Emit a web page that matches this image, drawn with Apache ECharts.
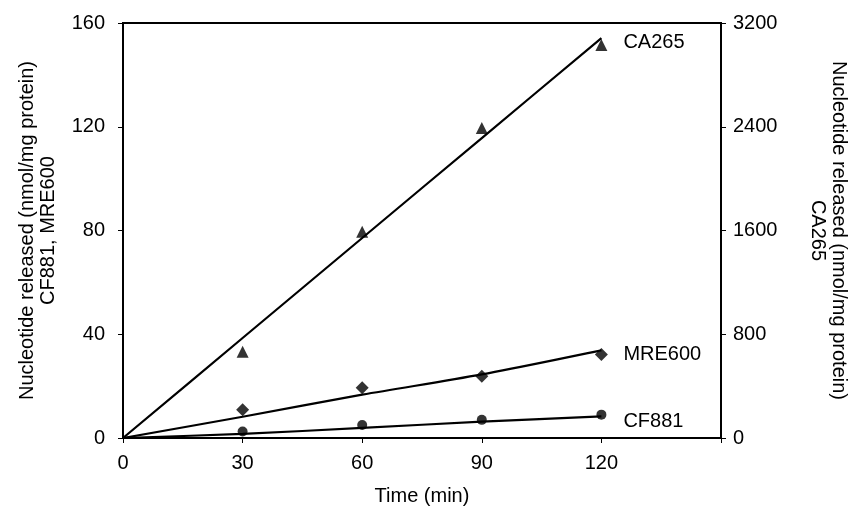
<!DOCTYPE html>
<html>
<head>
<meta charset="utf-8">
<script src="https://cdn.jsdelivr.net/npm/echarts@6/dist/echarts.min.js"></script>
<style>
  html, body { margin: 0; padding: 0; background: #fff; }
  #chart { width: 851px; height: 523px; }
</style>
</head>
<body>
<div id="chart"></div>
<script>
// time points (min)
var times = [30, 60, 90, 120];
var fitTimes = [0, 30, 60, 90, 120];

// measured values
var cf881 = [2.5, 5.0, 7.0, 9.0];          // left axis
var mre600 = [10.9, 19.4, 23.8, 32.2];     // left axis
var ca265 = [665, 1590, 2390, 3030];       // right axis

// fitted trend lines
var cf881Fit = [0, 1.6, 3.9, 6.3, 8.3];
var mre600Fit = [0, 8.2, 16.7, 24.5, 33.8];
var ca265Fit = [0, 771, 1542, 2313, 3084];

var pairs = function (xs, ys) {
    return xs.map(function (x, i) { return [x, ys[i]]; });
};

var font = 'Liberation Sans, Arial, sans-serif';
var black = '#000';
var fs = 20;

var fitSeries = function (name, ys, axis, dy) {
    return {
        name: name + ' fit',
        type: 'line',
        yAxisIndex: axis,
        data: pairs(fitTimes, ys),
        showSymbol: false,
        symbol: 'none',
        smooth: 0.3,
        lineStyle: { color: black, width: 2.2 },
        endLabel: {
            show: true,
            formatter: name,
            distance: 22,
            offset: [0, dy],
            color: black,
            fontFamily: font,
            fontSize: fs
        },
        z: 2
    };
};

var pointSeries = function (name, ys, axis, symbol, size) {
    return {
        name: name,
        type: 'scatter',
        yAxisIndex: axis,
        data: pairs(times, ys),
        symbol: symbol,
        symbolSize: size,
        itemStyle: { color: black },
        z: 3
    };
};

var myChart = echarts.init(document.getElementById('chart'));
myChart.setOption({
    animation: false,
    backgroundColor: '#fff',
    textStyle: { fontFamily: font, color: black },
    grid: {
        left: 123,
        right: 130,
        top: 23,
        bottom: 85,
        containLabel: false,
        outerBoundsMode: 'none',
        show: true,
        borderColor: black,
        borderWidth: 2
    },
    xAxis: {
        type: 'value',
        min: 0,
        max: 150,
        interval: 30,
        name: 'Time (min)',
        nameLocation: 'middle',
        nameGap: 48,
        nameTextStyle: { fontSize: fs, color: black, fontFamily: font },
        axisLine: { lineStyle: { color: black, width: 2 } },
        axisTick: { length: 5, lineStyle: { color: black } },
        axisLabel: {
            fontSize: fs,
            color: black,
            margin: 15,
            formatter: function (v) { return v === 150 ? '' : String(v); }
        },
        splitLine: { show: false }
    },
    yAxis: [
        {
            type: 'value',
            min: 0,
            max: 160,
            interval: 40,
            position: 'left',
            name: 'Nucleotide released (nmol/mg protein)\nCF881, MRE600',
            nameLocation: 'middle',
            nameGap: 64,
            nameTextStyle: { fontSize: fs, color: black, fontFamily: font, lineHeight: 21 },
            axisLine: { show: true, lineStyle: { color: black, width: 2 } },
            axisTick: { show: true, length: 5, lineStyle: { color: black } },
            axisLabel: { fontSize: fs, color: black, margin: 18 },
            splitLine: { show: false }
        },
        {
            type: 'value',
            min: 0,
            max: 3200,
            interval: 800,
            position: 'right',
            name: 'Nucleotide released (nmol/mg protein)\nCA265',
            nameLocation: 'middle',
            nameRotate: -90,
            nameGap: 86,
            nameTextStyle: { fontSize: fs, color: black, fontFamily: font, lineHeight: 21 },
            axisLine: { show: true, lineStyle: { color: black, width: 2 } },
            axisTick: { show: true, length: 5, lineStyle: { color: black } },
            axisLabel: {
                fontSize: fs,
                color: black,
                margin: 12,
                formatter: function (v) { return String(v); }
            },
            splitLine: { show: false }
        }
    ],
    series: [
        fitSeries('CA265', ca265Fit, 1, 4),
        fitSeries('MRE600', mre600Fit, 0, 4),
        fitSeries('CF881', cf881Fit, 0, 5),
        pointSeries('CA265', ca265, 1, 'triangle', 12),
        pointSeries('MRE600', mre600, 0, 'diamond', 13),
        pointSeries('CF881', cf881, 0, 'circle', 10)
    ]
});
window.onresize = myChart.resize;
</script>
</body>
</html>
